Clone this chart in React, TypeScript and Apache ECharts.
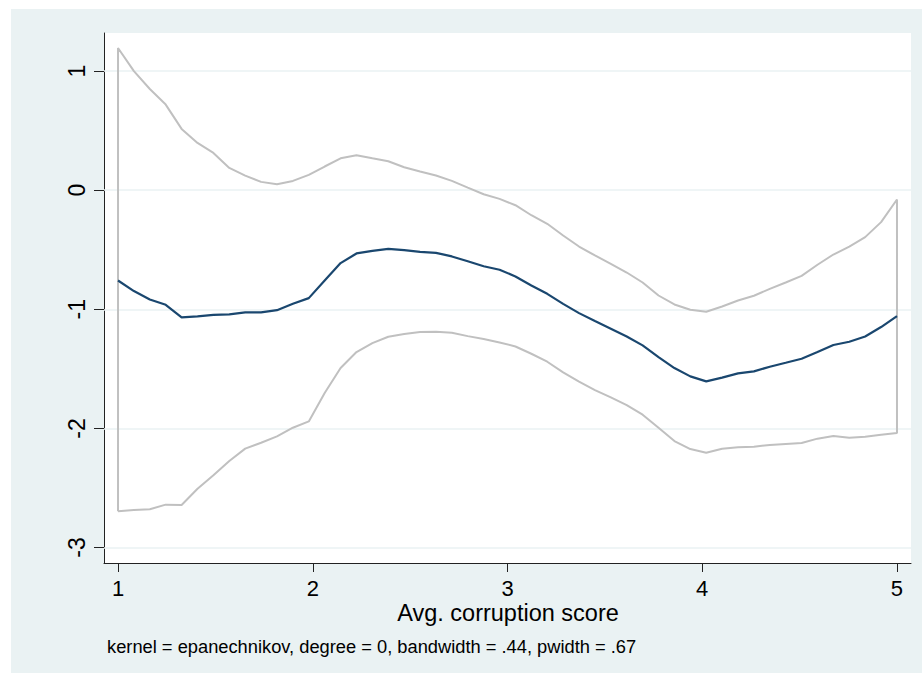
import React, { useEffect, useRef } from "react";
import * as echarts from "echarts";

// Evaluation grid (50 points on Avg. corruption score)
const xGrid = [
  1, 1.0816, 1.1633, 1.2449, 1.3265, 1.4082, 1.4898, 1.5714, 1.6531, 1.7347,
  1.8163, 1.898, 1.9796, 2.0612, 2.1429, 2.2245, 2.3061, 2.3878, 2.4694, 2.551,
  2.6327, 2.7143, 2.7959, 2.8776, 2.9592, 3.0408, 3.1224, 3.2041, 3.2857, 3.3673,
  3.449, 3.5306, 3.6122, 3.6939, 3.7755, 3.8571, 3.9388, 4.0204, 4.102, 4.1837,
  4.2653, 4.3469, 4.4286, 4.5102, 4.5918, 4.6735, 4.7551, 4.8367, 4.9184, 5,
];

// Local polynomial smooth
const smooth = [
  -0.758, -0.847, -0.917, -0.962, -1.068, -1.06, -1.046, -1.043, -1.026, -1.026,
  -1.007, -0.954, -0.906, -0.758, -0.612, -0.531, -0.509, -0.492, -0.503, -0.517,
  -0.526, -0.556, -0.596, -0.638, -0.668, -0.724, -0.8, -0.87, -0.954, -1.032,
  -1.099, -1.163, -1.228, -1.303, -1.401, -1.493, -1.563, -1.605, -1.574, -1.538,
  -1.521, -1.482, -1.449, -1.415, -1.359, -1.3, -1.272, -1.228, -1.149, -1.057,
];

// Upper confidence bound
const upper = [
  1.194, 1.0, 0.85, 0.719, 0.515, 0.397, 0.313, 0.187, 0.123, 0.07,
  0.05, 0.078, 0.129, 0.199, 0.268, 0.294, 0.268, 0.243, 0.193, 0.157,
  0.123, 0.078, 0.022, -0.034, -0.073, -0.126, -0.21, -0.282, -0.38, -0.473,
  -0.548, -0.618, -0.691, -0.775, -0.884, -0.959, -1.004, -1.02, -0.976, -0.926,
  -0.886, -0.828, -0.775, -0.719, -0.626, -0.54, -0.473, -0.394, -0.268, -0.078,
];

// Lower confidence bound
const lower = [
  -2.696, -2.685, -2.679, -2.64, -2.643, -2.506, -2.394, -2.273, -2.17, -2.12,
  -2.067, -1.994, -1.941, -1.703, -1.493, -1.359, -1.284, -1.23, -1.208, -1.191,
  -1.188, -1.197, -1.225, -1.25, -1.278, -1.312, -1.373, -1.44, -1.53, -1.608,
  -1.678, -1.739, -1.804, -1.885, -1.994, -2.106, -2.173, -2.204, -2.17, -2.159,
  -2.153, -2.139, -2.131, -2.123, -2.086, -2.064, -2.078, -2.069, -2.053, -2.039,
];

const xTicks = [1, 2, 3, 4, 5];
const yTicks = [-3, -2, -1, 0, 1];

const xTitle = "Avg. corruption score";
const note = "kernel = epanechnikov, degree = 0, bandwidth = .44, pwidth = .67";

const FONT = "'Liberation Sans', Arial, sans-serif";

export default function App() {
  const ref = useRef<HTMLDivElement>(null);

  useEffect(() => {
    if (!ref.current) return;
    const chart = echarts.init(ref.current, null, { renderer: "svg" });

    const ciOutline: number[][] = [];
    lower.forEach((v, i) => ciOutline.push([xGrid[i], v]));
    for (let i = upper.length - 1; i >= 0; i--) ciOutline.push([xGrid[i], upper[i]]);
    ciOutline.push([xGrid[0], lower[0]]);

    const axisColor = "#222";

    chart.setOption({
      animation: false,
      backgroundColor: "#eaf2f3",
      grid: {
        left: 93,
        top: 24,
        width: 807,
        height: 530,
        show: true,
        backgroundColor: "#ffffff",
        borderWidth: 0,
      },
      xAxis: {
        type: "value",
        min: 0.928,
        max: 5.072,
        axisLine: { show: true, onZero: false, lineStyle: { color: axisColor, width: 1 } },
        axisTick: { show: true, length: 9, customValues: xTicks, lineStyle: { color: axisColor } },
        axisLabel: {
          customValues: xTicks,
          margin: 16,
          fontSize: 22,
          lineHeight: 18,
          color: "#000",
          fontFamily: FONT,
        },
        splitLine: { show: false },
      },
      yAxis: {
        type: "value",
        min: -3.13,
        max: 1.32,
        axisLine: { show: true, onZero: false, lineStyle: { color: axisColor, width: 1 } },
        axisTick: { show: true, length: 10, customValues: yTicks, lineStyle: { color: axisColor } },
        axisLabel: {
          customValues: yTicks,
          rotate: 90,
          margin: 16,
          fontSize: 23,
          color: "#000",
          fontFamily: FONT,
        },
        splitLine: { show: false },
      },
      series: [
        {
          type: "line",
          name: "CI",
          data: ciOutline,
          showSymbol: false,
          symbol: "none",
          z: 2,
          lineStyle: { color: "#c0c0c0", width: 2 },
          markLine: {
            silent: true,
            symbol: "none",
            label: { show: false },
            lineStyle: { color: "#eaf2f3", width: 1.5, type: "solid" },
            data: yTicks.map((v) => ({ yAxis: v })),
            z: 1,
          },
        },
        {
          type: "line",
          name: "lpoly smooth",
          data: xGrid.map((x, i) => [x, smooth[i]]),
          showSymbol: false,
          symbol: "none",
          z: 3,
          lineStyle: { color: "#1a476f", width: 2.2 },
        },
      ],
      graphic: [
        {
          type: "text",
          style: {
            text: xTitle,
            x: 497,
            y: 604,
            fontSize: 23.5,
            lineHeight: 18,
            fontFamily: FONT,
            fill: "#000",
            align: "center",
            verticalAlign: "middle",
          },
        },
        {
          type: "text",
          style: {
            text: note,
            x: 96,
            y: 637,
            fontSize: 18.3,
            fontFamily: FONT,
            fill: "#000",
            align: "left",
            verticalAlign: "middle",
          },
        },
      ],
    });

    return () => chart.dispose();
  }, []);

  return (
    <div style={{ position: "fixed", left: 0, top: 0, width: 922, height: 675, background: "#fff" }}>
      <div
        ref={ref}
        style={{ position: "absolute", left: 11, top: 9, width: 911, height: 664 }}
      />
    </div>
  );
}
